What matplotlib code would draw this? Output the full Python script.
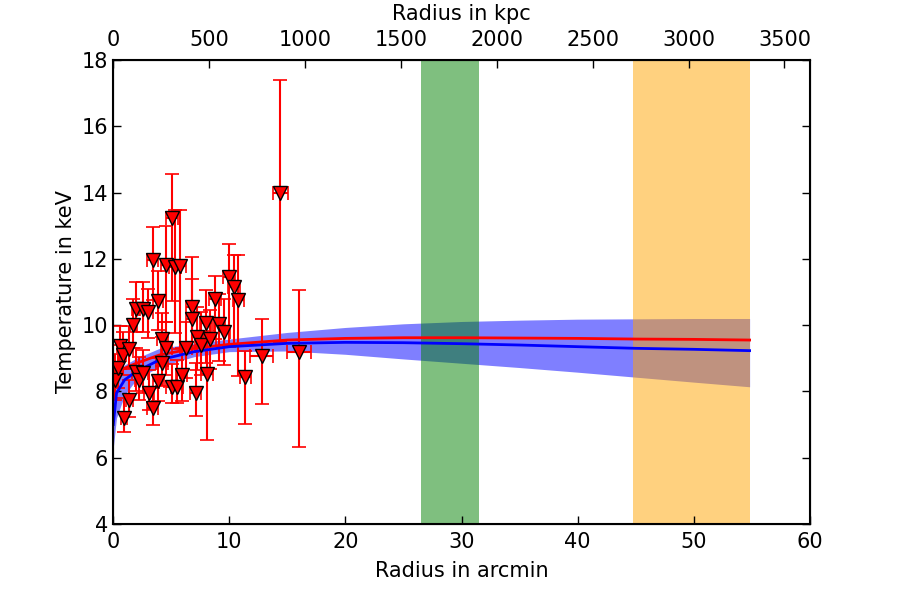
import numpy as np
import matplotlib
matplotlib.use("Agg")
import matplotlib.pyplot as plt

plt.rcParams["font.family"] = "DejaVu Sans"
plt.rcParams["font.size"] = 15
plt.rcParams["xtick.direction"] = "in"
plt.rcParams["ytick.direction"] = "in"

# measured temperature profile (arcmin, keV)
radius = [0.17, 0.46, 0.6, 0.9, 0.95, 1.4, 1.4, 1.75, 2.0, 2.0, 2.26, 2.6,
          2.6, 3.0, 3.1, 3.4, 3.4, 3.85, 3.9, 4.2, 4.25, 4.6, 4.6, 5.05,
          5.05, 5.35, 5.5, 5.8, 5.9, 6.28, 6.77, 6.77, 7.1, 7.26, 7.55, 8.0,
          8.1, 8.35, 8.78, 9.15, 9.58, 10.0, 10.4, 10.8, 11.4, 12.8, 14.4, 16.0]
temp = [8.34, 8.70, 9.37, 9.10, 7.19, 9.28, 7.74, 10.0, 10.5, 8.6, 8.34, 10.5,
        8.55, 10.4, 7.95, 11.97, 7.5, 10.74, 8.3, 8.85, 9.58, 11.8, 9.3, 13.23,
        8.14, 11.76, 8.14, 11.78, 8.5, 9.3, 10.56, 10.2, 7.96, 9.65, 9.4, 10.07,
        8.52, 9.57, 10.78, 10.03, 9.8, 11.44, 11.16, 10.76, 8.43, 9.07, 14.0, 9.2]
temp_lo = [0.6, 0.6, 0.7, 0.6, 0.4, 0.6, 0.5, 0.7, 0.7, 0.6, 0.6, 0.7,
           0.6, 0.8, 0.5, 1.2, 0.5, 0.9, 0.6, 0.7, 0.8, 1.7, 0.8, 2.5,
           0.5, 2.0, 0.5, 2.5, 0.8, 0.9, 1.2, 1.0, 0.7, 1.0, 0.9, 1.2,
           2.0, 0.9, 1.2, 1.1, 1.0, 2.1, 1.8, 2.3, 1.4, 1.45, 4.5, 2.87]
temp_hi = [0.8, 0.7, 0.6, 0.7, 0.6, 0.7, 0.6, 0.8, 0.8, 0.7, 0.7, 0.8,
           0.7, 0.7, 0.7, 1.0, 0.6, 0.9, 0.7, 0.8, 0.8, 1.2, 0.8, 1.33,
           0.7, 1.7, 0.8, 1.7, 0.8, 0.8, 1.5, 1.2, 0.9, 0.9, 1.0, 1.0,
           1.3, 0.9, 0.7, 0.9, 1.0, 1.0, 0.95, 1.35, 0.8, 1.1, 3.4, 1.85]
radius_err = [0.17, 0.2, 0.25, 0.25, 0.25, 0.3, 0.3, 0.3, 0.35, 0.35, 0.35, 0.4,
              0.4, 0.4, 0.4, 0.45, 0.45, 0.45, 0.45, 0.5, 0.5, 0.5, 0.5, 0.5,
              0.5, 0.5, 0.5, 0.5, 0.5, 0.5, 0.5, 0.5, 0.5, 0.5, 0.5, 0.5,
              0.5, 0.5, 0.5, 0.5, 0.5, 0.5, 0.5, 0.5, 0.5, 1.0, 0.65, 1.0]

# model curves
model_r = [0.02, 0.3, 1, 2, 4, 7, 10, 15, 20, 25, 30, 35, 40, 45, 50, 54.8]
model_red = [8.0, 8.55, 8.7, 8.85, 9.1, 9.3, 9.42, 9.55, 9.6, 9.62, 9.62,
             9.61, 9.6, 9.58, 9.57, 9.55]
model_blue = [7.0, 7.95, 8.35, 8.6, 8.95, 9.2, 9.35, 9.45, 9.48, 9.47, 9.44,
              9.4, 9.35, 9.3, 9.27, 9.23]
band_lo = [6.3, 7.2, 7.9, 8.35, 8.75, 9.05, 9.2, 9.22, 9.12, 8.98, 8.85,
           8.72, 8.58, 8.43, 8.28, 8.14]
band_hi = [7.7, 8.5, 8.8, 9.0, 9.3, 9.45, 9.58, 9.78, 9.93, 10.04, 10.11,
           10.15, 10.18, 10.19, 10.2, 10.2]

green_span = (26.5, 31.5)
orange_span = (44.8, 54.8)
kpc_per_arcmin = 60.55

fig = plt.figure(figsize=(9, 6), dpi=100)
ax = fig.add_axes([0.1256, 0.1267, 0.7744, 0.7733])

ax.fill_between(model_r, band_lo, band_hi, color="blue", alpha=0.5, lw=0)
ax.axvspan(*green_span, color="green", alpha=0.5, lw=0)
ax.axvspan(*orange_span, color="orange", alpha=0.5, lw=0)

ax.errorbar(radius, temp, yerr=[temp_lo, temp_hi], xerr=radius_err,
            fmt="v", color="red", ecolor="red", mec="black", mfc="red",
            ms=10, elinewidth=1.5, capsize=5, capthick=1.2)

ax.plot(model_r, model_red, color="red", lw=2)
ax.plot(model_r, model_blue, color="blue", lw=2)

ax.set_xlim(0, 60)
ax.set_ylim(4, 18)
ax.set_xlabel("Radius in arcmin", labelpad=7)
ax.set_ylabel("Temperature in keV")
ax.tick_params(top=False, right=True, length=6, width=1)
ax.tick_params(axis="x", pad=5.5)
for s in ax.spines.values():
    s.set_linewidth(1.5)

top = ax.twiny()
top.set_xlim(0, 60 * kpc_per_arcmin)
top.set_xticks(np.arange(0, 3501, 500))
top.set_xlabel("Radius in kpc", labelpad=7)
top.tick_params(length=6, width=1, pad=7.5)

fig.savefig("out.png", dpi=100)
